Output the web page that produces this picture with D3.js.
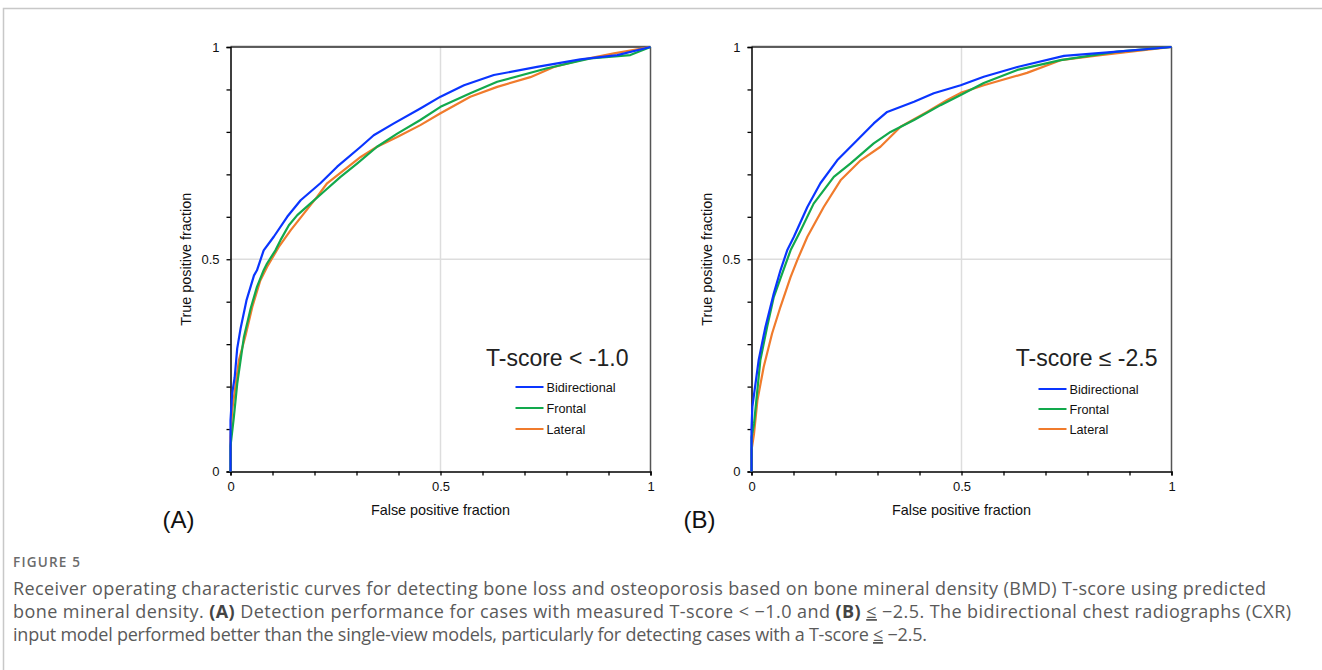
<!DOCTYPE html>
<html><head><meta charset="utf-8">
<script src="https://cdn.jsdelivr.net/npm/d3@7"></script>
<style>
html,body{margin:0;padding:0;background:#fff;overflow:hidden;}
svg{display:block;}
</style></head>
<body>
<svg id="chart" width="1322" height="670"></svg>
<script>
// ---------- DATA ----------
const seriesNames = ["Bidirectional", "Frontal", "Lateral"];
const seriesColors = ["#0a35ff", "#12a94c", "#f07b2c"];
const axisTicks = [0, 0.5, 1];
const panelLabels = ["(A)", "(B)"];
const panelTitles = ["T-score < -1.0", "T-score \u2264 -2.5"];

// Panel A: T-score < -1.0  ([false positive fraction, true positive fraction])
const rocA_bidirectional = [[0,0],[0,0.12],[0.004,0.184],[0.01,0.222],[0.016,0.29],[0.024,0.337],[0.038,0.403],[0.056,0.462],[0.063,0.474],[0.079,0.521],[0.103,0.553],[0.135,0.6],[0.167,0.639],[0.214,0.679],[0.254,0.718],[0.31,0.765],[0.341,0.792],[0.389,0.82],[0.452,0.855],[0.5,0.883],[0.556,0.91],[0.627,0.934],[0.73,0.953],[0.833,0.971],[0.921,0.981],[1,1]];
const rocA_frontal = [[0,0],[0,0.06],[0.008,0.128],[0.016,0.207],[0.032,0.317],[0.048,0.384],[0.063,0.435],[0.079,0.474],[0.087,0.49],[0.107,0.521],[0.119,0.545],[0.139,0.58],[0.159,0.604],[0.19,0.631],[0.222,0.659],[0.262,0.694],[0.302,0.726],[0.349,0.765],[0.397,0.796],[0.452,0.828],[0.5,0.859],[0.571,0.891],[0.635,0.918],[0.754,0.95],[0.857,0.973],[0.952,0.981],[1,1]];
const rocA_lateral = [[0,0],[0,0.08],[0.004,0.144],[0.02,0.262],[0.036,0.321],[0.052,0.388],[0.071,0.45],[0.087,0.482],[0.115,0.529],[0.143,0.568],[0.175,0.608],[0.206,0.647],[0.23,0.679],[0.27,0.71],[0.31,0.741],[0.349,0.765],[0.397,0.788],[0.452,0.816],[0.5,0.844],[0.571,0.883],[0.635,0.906],[0.714,0.929],[0.77,0.953],[0.833,0.969],[0.913,0.985],[1,1]];

// Panel B: T-score <= -2.5
const rocB_bidirectional = [[0,0],[0,0.1],[0.002,0.152],[0.017,0.262],[0.033,0.34],[0.053,0.419],[0.069,0.474],[0.085,0.521],[0.101,0.553],[0.133,0.623],[0.164,0.679],[0.204,0.733],[0.252,0.781],[0.291,0.82],[0.323,0.847],[0.387,0.871],[0.434,0.891],[0.498,0.91],[0.553,0.93],[0.633,0.953],[0.744,0.979],[0.871,0.989],[1,1]];
const rocB_frontal = [[0,0],[0,0.08],[0.006,0.112],[0.021,0.262],[0.037,0.34],[0.053,0.411],[0.073,0.466],[0.093,0.521],[0.117,0.568],[0.148,0.631],[0.196,0.694],[0.236,0.726],[0.291,0.773],[0.331,0.8],[0.387,0.828],[0.45,0.863],[0.498,0.887],[0.553,0.915],[0.633,0.946],[0.736,0.969],[0.871,0.989],[1,1]];
const rocB_lateral = [[0,0],[0,0.05],[0.006,0.089],[0.014,0.167],[0.029,0.246],[0.049,0.325],[0.069,0.388],[0.093,0.458],[0.109,0.498],[0.133,0.553],[0.172,0.623],[0.212,0.686],[0.26,0.733],[0.307,0.765],[0.355,0.812],[0.418,0.847],[0.466,0.875],[0.498,0.892],[0.553,0.91],[0.656,0.939],[0.736,0.969],[0.831,0.981],[1,1]];

const panels = [
  {series: [rocA_bidirectional, rocA_frontal, rocA_lateral]},
  {series: [rocB_bidirectional, rocB_frontal, rocB_lateral]}
];

const captionHead = "FIGURE 5";

// ---------- DRAW ----------
const svg = d3.select("#chart");
const FONT = "'Liberation Sans', Arial, sans-serif";

// outer frame
svg.append("rect").attr("x", 3.5).attr("y", 8.5).attr("width", 1340).attr("height", 700)
  .attr("fill", "none").attr("stroke", "#c8c8c8").attr("stroke-width", 1.5);

const panelX = [230.5, 751.5];
const W = 420, yTop = 47, yBot = 471.5;

panels.forEach((p, i) => {
  const x0 = panelX[i];
  const x = d3.scaleLinear().domain([0, 1]).range([x0, x0 + W]);
  const y = d3.scaleLinear().domain([0, 1]).range([yBot, yTop]);
  const g = svg.append("g");

  // gridlines at 0.5
  g.append("line").attr("x1", x(0.5)).attr("x2", x(0.5)).attr("y1", y(0)).attr("y2", y(1))
    .attr("stroke", "#dddddd").attr("stroke-width", 1.5);
  g.append("line").attr("x1", x(0)).attr("x2", x(1)).attr("y1", y(0.5)).attr("y2", y(0.5))
    .attr("stroke", "#dddddd").attr("stroke-width", 1.5);
  // top & right frame
  g.append("line").attr("x1", x(0)).attr("x2", x(1)).attr("y1", y(1) - 1.2).attr("y2", y(1) - 1.2)
    .attr("stroke", "#cfcfcf").attr("stroke-width", 1.2);
  g.append("line").attr("x1", x(0)).attr("x2", x(1)).attr("y1", y(1)).attr("y2", y(1))
    .attr("stroke", "#2a2a2a").attr("stroke-width", 1.5);
  g.append("line").attr("x1", x(1)).attr("x2", x(1)).attr("y1", y(1)).attr("y2", y(0))
    .attr("stroke", "#555").attr("stroke-width", 1.5);

  // axes
  const minorTicks = d3.range(0, 1.0001, 0.1);
  const xAxis = d3.axisBottom(x).tickValues(minorTicks).tickSize(4)
    .tickFormat(d => axisTicks.some(t => Math.abs(t - d) < 1e-9) ? d3.format("~g")(d) : "");
  const yAxis = d3.axisLeft(y).tickValues(minorTicks).tickSize(4)
    .tickFormat(d => axisTicks.some(t => Math.abs(t - d) < 1e-9) ? d3.format("~g")(d) : "");
  const gx = g.append("g").attr("transform", `translate(0,${yBot})`).call(xAxis);
  const gy = g.append("g").attr("transform", `translate(${x0},0)`).call(yAxis);
  [gx, gy].forEach(a => {
    a.attr("font-family", FONT);
    a.select(".domain").attr("stroke", "#000").attr("stroke-width", 1.5);
    a.selectAll(".tick line").attr("stroke", "#000").attr("stroke-width", 1.3);
    a.selectAll(".tick text").attr("font-family", FONT).attr("font-size", 13).attr("fill", "#111");
  });
  gx.selectAll(".tick text").attr("dy", "1.05em").attr("y", 6);
  gy.selectAll(".tick text").attr("x", -11);

  // axis titles
  g.append("text").attr("x", x(0.5)).attr("y", 515).attr("text-anchor", "middle")
    .attr("font-family", FONT).attr("font-size", 14.4).attr("fill", "#111").text("False positive fraction");
  g.append("text").attr("transform", `translate(${x0 - 40},${y(0.5)}) rotate(-90)`)
    .attr("text-anchor", "middle").attr("font-family", FONT).attr("font-size", 14.4).attr("fill", "#111")
    .text("True positive fraction");

  // panel label
  g.append("text").attr("x", x0 - 52).attr("y", 528).attr("text-anchor", "middle")
    .attr("font-family", FONT).attr("font-size", 24).attr("fill", "#111").text(panelLabels[i]);

  // curves
  const line = d3.line().x(d => x(d[0])).y(d => y(d[1]));
  [2, 1, 0].forEach(k => {
    g.append("path").datum(p.series[k]).attr("d", line).attr("fill", "none")
      .attr("stroke", seriesColors[k]).attr("stroke-width", 2.2).attr("stroke-linejoin", "round");
  });

  // legend
  const lx = x0 + (i === 0 ? 285 : 287);
  g.append("text").attr("x", x0 + (i === 0 ? 398 : 406)).attr("y", 366).attr("text-anchor", "end")
    .attr("font-family", FONT).attr("font-size", 23).attr("fill", "#222").text(panelTitles[i]);
  const legY = i === 0 ? [387, 408, 429] : [389, 409, 429];
  seriesNames.forEach((n, k) => {
    g.append("line").attr("x1", lx).attr("x2", lx + 28).attr("y1", legY[k]).attr("y2", legY[k])
      .attr("stroke", seriesColors[k]).attr("stroke-width", 2);
    g.append("text").attr("x", lx + 31).attr("y", legY[k] + 4.5).attr("font-family", FONT)
      .attr("font-size", 12.7).attr("fill", "#111").text(n);
  });
});

// caption
const CF = "'Open Sans', sans-serif";
const head = svg.append("text").attr("x", 13).attr("y", 567).attr("font-family", CF)
  .attr("font-size", 13.5).attr("font-weight", 600).attr("fill", "#6b6b6b").text(captionHead);
{
  const w = head.node().getComputedTextLength();
  head.attr("letter-spacing", (67 - w) / (captionHead.length - 1));
}

const capLines = [
  [{t:"Receiver operating characteristic curves for detecting bone loss and osteoporosis based on bone mineral density (BMD) T-score using predicted"}],
  [{t:"bone mineral density. "},{t:"(A)",b:true},{t:" Detection performance for cases with measured T-score < \u22121.0 and "},{t:"(B)",b:true},{t:" "},{t:"\u2264",u:true},{t:" \u22122.5. The bidirectional chest radiographs (CXR)"}],
  [{t:"input model performed better than the single-view models, particularly for detecting cases with a T-score "},{t:"\u2264",u:true},{t:" \u22122.5."}]
];
const capY = [595, 618, 641];
const capEnd = [1266, 1291, 927];
capLines.forEach((ln, i) => {
  const t = svg.append("text").attr("x", 13).attr("y", capY[i]).attr("font-family", CF)
    .attr("font-size", 18).attr("fill", "#5a5a5a");
  ln.forEach(s => {
    const ts = t.append("tspan").text(s.t);
    if (s.b) ts.attr("font-weight", 700).attr("fill", "#444");
    if (s.u) ts.attr("text-decoration", "underline");
  });
  const w = t.node().getComputedTextLength();
  const n = ln.map(s => s.t).join("").length;
  t.attr("letter-spacing", (capEnd[i] - 13 - w) / (n - 1));
});
</script>
</body></html>
